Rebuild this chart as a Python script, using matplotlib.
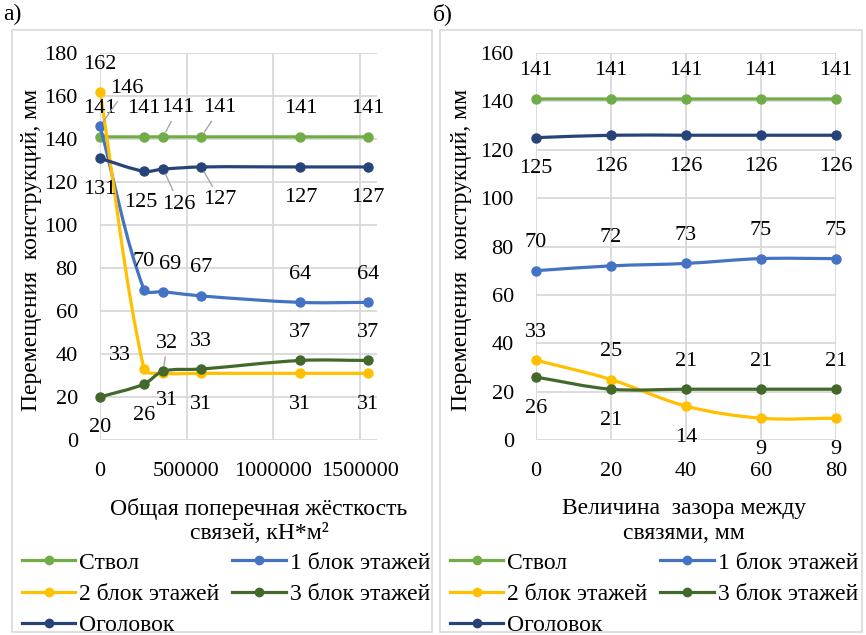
import numpy as np
import matplotlib
matplotlib.use("Agg")
import matplotlib.pyplot as plt
from matplotlib.path import Path
from matplotlib.patches import PathPatch, Rectangle
from matplotlib.lines import Line2D

FAM = ['Liberation Serif', 'DejaVu Serif']
plt.rcParams['font.family'] = FAM

# ---- data -------------------------------------------------------------
series_names = ['Ствол', '1 блок этажей', '2 блок этажей', '3 блок этажей', 'Оголовок']

# panel a) - total transverse stiffness of links
stiffness = [0, 254000, 365000, 585000, 1158000, 1546000]
a_stvol = [141, 141, 141, 141, 141, 141]
a_block1 = [146, 70, 69, 67, 64, 64]
a_block2 = [162, 33, 31, 31, 31, 31]
a_block3 = [20, 26, 32, 33, 37, 37]
a_head = [131, 125, 126, 127, 127, 127]
a_xticks = [0, 500000, 1000000, 1500000]

# panel b) - gap between links
gap = [0, 20, 40, 60, 80]
b_stvol = [141, 141, 141, 141, 141]
b_block1 = [70, 72, 73, 75, 75]
b_block2 = [33, 25, 14, 9, 9]
b_block3 = [26, 21, 21, 21, 21]
b_head = [125, 126, 126, 126, 126]

# ---- style ------------------------------------------------------------
colors = ['#70AD47', '#4472C4', '#FFC000', '#43682B', '#264478']
FS = 16      # numbers
FT = 17      # cyrillic text
W, H = 866, 635

# label offsets in pixels (dx, dy), dy up; third item = leader line
A = (0, 28)
B = (0, -31)
a_offsets = [
    [A, A, (15, 29, 1), (19, 29, 1), A, A],
    [(27, 38, 1), A, (7, 27), A, A, A],
    [(0, 27), (-24, 14), (4, -27), B, B, B],
    [B, B, (4, 28, 1), A, A, A],
    [B, (-3, -31), (16, -35, 1), (19, -33, 1), B, B],
]
b_offsets = [
    [A] * 5,
    [A] * 5,
    [A, A, B, B, B],
    [B, B, A, A, A],
    [B] * 5,
]


def px(x, y):
    return x / W, 1 - y / H


def smooth_line(ax, xs, ys, color, z):
    # Excel-like smoothed line: cubic bezier built in display space
    pts = ax.transData.transform(np.column_stack([xs, ys]))
    n = len(pts)
    verts = [pts[0]]
    codes = [Path.MOVETO]
    for i in range(n - 1):
        p0 = pts[max(i - 1, 0)]
        p1 = pts[i]
        p2 = pts[i + 1]
        p3 = pts[min(i + 2, n - 1)]
        d01 = np.hypot(*(p1 - p0))
        d12 = np.hypot(*(p2 - p1))
        d23 = np.hypot(*(p3 - p2))
        c1 = p1 + (p2 - p0) * d12 / (d01 + d12) / 3
        c2 = p2 - (p3 - p1) * d12 / (d12 + d23) / 3
        verts += [c1, c2, p2]
        codes += [Path.CURVE4] * 3
    verts = ax.transData.inverted().transform(np.array(verts))
    ax.add_patch(PathPatch(Path(verts, codes), facecolor='none', edgecolor=color,
                           lw=2.3, zorder=z, capstyle='round', joinstyle='round'))


def draw_panel(ax, xs, series, offsets, xlim, ylim, xticks, yticks):
    ax.set_xlim(*xlim)
    ax.set_ylim(*ylim)
    ax.set_xticks(xticks, labels=[str(v) for v in xticks], fontfamily=FAM, fontsize=FS)
    ax.set_yticks(yticks, labels=[str(v) for v in yticks], fontfamily=FAM, fontsize=FS)
    ax.grid(True, color='#D9D9D9', lw=1.3)
    ax.set_axisbelow(True)
    for s in ax.spines.values():
        s.set_visible(False)
    ax.tick_params(length=0)
    ax.tick_params(axis='x', pad=16)
    ax.tick_params(axis='y', pad=16)
    ax.patch.set_alpha(0)

    for k, (ys, col) in enumerate(zip(series, colors)):
        smooth_line(ax, xs, ys, col, 3 + k)
        ax.plot(xs, ys, 'o', color=col, ms=6.5, zorder=3 + k, clip_on=False)
    for k, ys in enumerate(series):
        for x, y, off in zip(xs, ys, offsets[k]):
            kw = {}
            if len(off) > 2:
                kw['arrowprops'] = dict(arrowstyle='-', color='#A6A6A6', lw=1,
                                        shrinkA=1, shrinkB=4)
            ax.annotate(f"{y:.0f}", (x, y), xytext=(off[0], off[1]),
                        textcoords='offset pixels', ha='center', va='center',
                        fontsize=FS, family=FAM, zorder=20, annotation_clip=False, **kw)


fig = plt.figure(figsize=(W / 100, H / 100), dpi=100)

# panel frames
for x0, x1 in [(12, 432), (440, 862)]:
    fig.patches.append(Rectangle(px(x0, 632), (x1 - x0) / W, (632 - 30) / H,
                                 transform=fig.transFigure, fill=False,
                                 edgecolor='#D9D9D9', lw=1.2))

ax1 = fig.add_axes([100 / W, 1 - 440 / H, 277 / W, 387 / H])
draw_panel(ax1, stiffness, [a_stvol, a_block1, a_block2, a_block3, a_head], a_offsets,
           (0, 1600000), (0, 180), a_xticks, list(range(0, 181, 20)))

ax2 = fig.add_axes([536 / W, 1 - 440 / H, 300 / W, 387 / H])
draw_panel(ax2, gap, [b_stvol, b_block1, b_block2, b_block3, b_head], b_offsets,
           (0, 80), (0, 160), gap, list(range(0, 161, 20)))

# axis titles
txt = dict(fontsize=FT, family=FAM)
fig.text(*px(3, 14), 'а)', va='center', ha='left', **txt)
fig.text(*px(433, 14), 'б)', va='center', ha='left', **txt)
for x in (32, 462):
    fig.text(*px(x, 250), 'Перемещения  конструкций, мм', rotation=90,
             ha='center', va='center', **txt)
fig.text(*px(259, 521), 'Общая поперечная жёсткость\nсвязей, кН*м²',
         ha='center', va='center', linespacing=1.2, **txt)
fig.text(*px(684, 521), 'Величина  зазора между\nсвязями, мм',
         ha='center', va='center', linespacing=1.2, **txt)

# legends (row-major order with 2 columns)
handles = [Line2D([], [], color=c, lw=2.3, marker='o', ms=6) for c in colors]
order = [0, 2, 4, 1, 3]
for ax, x0 in [(ax1, 22), (ax2, 450)]:
    ax.legend([handles[i] for i in order], [series_names[i] for i in order],
              loc='upper left', bbox_to_anchor=px(x0, 552), bbox_transform=fig.transFigure,
              ncol=2, frameon=False, prop={'family': FAM, 'size': FT},
              borderpad=0, borderaxespad=0,
              handlelength=2.25, handletextpad=0.17, columnspacing=0.55, labelspacing=0.42)

fig.savefig('out.png', dpi=100)
